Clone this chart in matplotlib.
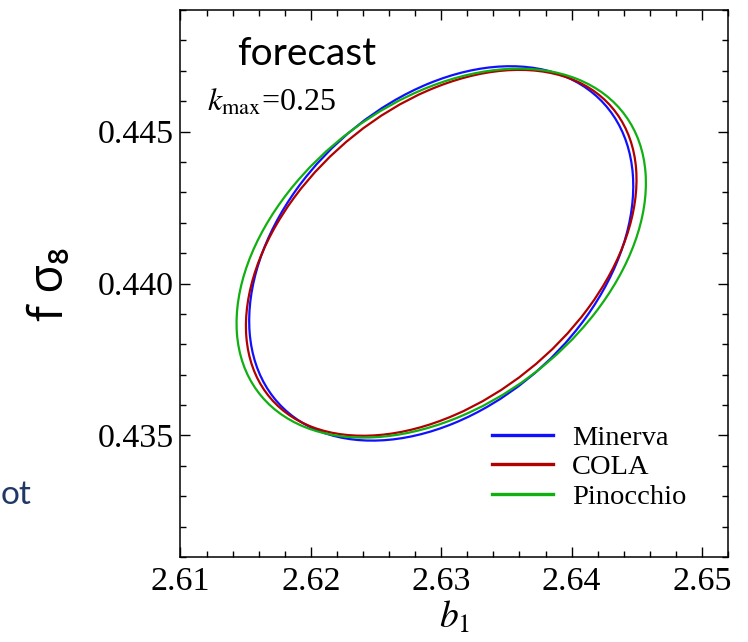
import numpy as np
import matplotlib
matplotlib.use("Agg")
from matplotlib import pyplot as plt
from matplotlib.patches import Ellipse
from matplotlib.lines import Line2D
from matplotlib.ticker import MultipleLocator

# 1-sigma contours in the (b1, f sigma8) plane, one per simulation set
labels = ["Minerva", "COLA", "Pinocchio"]
colors = ["#1010ff", "#b00000", "#10b010"]
centerB1 = [2.6300, 2.6300, 2.6300]
centerFs8 = [0.44099, 0.44101, 0.44100]
halfB1 = [0.01473, 0.01498, 0.01570]     # projected half-extent along b1
halfFs8 = [0.00616, 0.00602, 0.00607]    # projected half-extent along f sigma8
corr = [0.36, 0.40, 0.38]

xTicks = [2.61, 2.62, 2.63, 2.64, 2.65]
yTicks = [0.435, 0.440, 0.445]

plt.rcParams['mathtext.fontset'] = 'stix'
serif = 'Liberation Serif'

fig = plt.figure(figsize=(7.48, 6.42), dpi=100)
ax = fig.add_axes([0.2413, 0.1324, 0.7320, 0.8520])
ax.set_xlim(2.61, 2.652)
ax.set_ylim(0.431, 0.449)


def contourEllipse(cx, cy, sx, sy, rho, color):
    """ ellipse patch for the covariance given by sx, sy and rho """
    cov = np.array([[sx**2, rho*sx*sy],
                    [rho*sx*sy, sy**2]])
    vals, vecs = np.linalg.eigh(cov)
    angle = np.degrees(np.arctan2(vecs[1, 1], vecs[0, 1]))
    return Ellipse((cx, cy), 2*np.sqrt(vals[1]), 2*np.sqrt(vals[0]), angle=angle,
                   fill=False, edgecolor=color, linewidth=1.6)


handles = []
for i in range(len(labels)):
    ax.add_patch(contourEllipse(centerB1[i], centerFs8[i], halfB1[i], halfFs8[i],
                                corr[i], colors[i]))
    handles.append(Line2D([], [], color=colors[i], linewidth=2.4, label=labels[i]))

ax.set_xticks(xTicks)
ax.set_yticks(yTicks)
ax.set_xticklabels(["%.2f" % v for v in xTicks], fontfamily=serif)
ax.set_yticklabels(["%.3f" % v for v in yTicks], fontfamily=serif)
ax.xaxis.set_minor_locator(MultipleLocator(0.002))
ax.yaxis.set_minor_locator(MultipleLocator(0.001))
ax.tick_params(which='both', direction='in', top=True, right=True, width=1.0)
ax.tick_params(which='major', length=7, labelsize=24.5, pad=7)
ax.tick_params(which='minor', length=4.5)
ax.tick_params(axis='y', pad=5)
for s in ax.spines.values():
    s.set_linewidth(1.1)

ax.set_xlabel(r"$b_1$", fontsize=27, labelpad=2)

# big sans label on the left
fig.text(50/748, 1 - 284/642, "f σ₈", rotation=90, fontsize=34, family="Open Sans",
         ha='center', va='center')

ax.text(0.103, 0.8995, "forecast", transform=ax.transAxes, fontsize=28,
        family="Lato", ha='left', va='baseline')
ax.text(0.048, 0.8165, r"$k_{\rm max}$=0.25", transform=ax.transAxes, fontsize=23,
        family=serif, ha='left', va='baseline')

fig.text(1/748, 1 - 504/642, "ot", fontsize=24, family="Lato", color="#203864",
         ha='left', va='baseline')

leg = ax.legend(handles=handles, loc='upper left', bbox_to_anchor=(0.569, 0.2414),
                frameon=False, borderpad=0, borderaxespad=0, handlelength=2.15,
                handletextpad=0.65, labelspacing=0.12, prop={'family': serif, 'size': 20.5})

fig.savefig("out.png", dpi=100)
